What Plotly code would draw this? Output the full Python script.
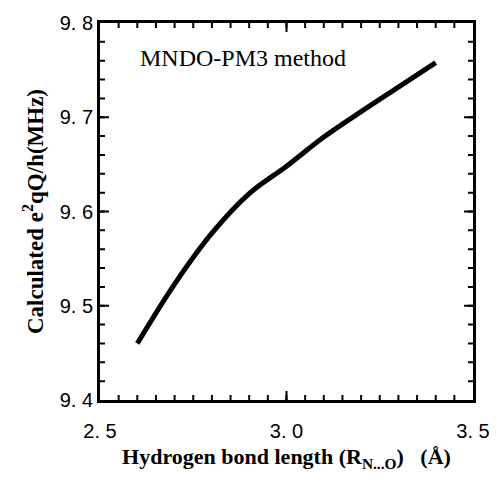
import plotly.graph_objects as go

r_no = [2.6, 2.7, 2.8, 2.9, 3.0, 3.1, 3.2, 3.3, 3.4]
eqq = [9.46, 9.523, 9.577, 9.619, 9.648, 9.679, 9.706, 9.732, 9.758]

x_ticks = [2.5, 3.0, 3.5]
x_ticktext = ["2. 5", "3. 0", "3. 5"]
y_ticks = [9.4, 9.5, 9.6, 9.7, 9.8]
y_ticktext = ["9. 4", "9. 5", "9. 6", "9. 7", "9. 8"]

fig = go.Figure()
fig.add_trace(go.Scatter(x=r_no, y=eqq, mode="lines",
                         line=dict(color="black", width=5, shape="spline", smoothing=1.0),
                         showlegend=False))

axis_common = dict(showgrid=False, zeroline=False, showline=True, linecolor="#000000",
                   linewidth=3, mirror="allticks", ticks="inside", ticklen=9,
                   tickwidth=2, tickcolor="#000000", layer="above traces",
                   tickfont=dict(family="Liberation Sans, Arial", size=20, color="black"))

fig.update_xaxes(range=[2.5, 3.5], tickvals=x_ticks, ticktext=x_ticktext,
                 ticklabelstandoff=11,
                 minor=dict(tickvals=[2.5 + 0.05 * i for i in range(21)], ticks="inside",
                            ticklen=5, tickcolor="#000000", tickwidth=1.5),
                 title=dict(text="<b>Hydrogen bond length (R<sub>N...O</sub>)   (Å)</b>",
                            font=dict(family="Liberation Serif, Times New Roman", size=22, color="black"),
                            standoff=8),
                 **axis_common)
fig.update_yaxes(range=[9.4, 9.8], tickvals=y_ticks, ticktext=y_ticktext,
                 minor=dict(tickvals=[9.4 + 0.02 * i for i in range(21)], ticks="inside",
                            ticklen=5, tickcolor="#000000", tickwidth=1.5),
                 title=dict(text="<b>Calculated e<sup>2</sup>qQ/h(MHz)</b>",
                            font=dict(family="Liberation Serif, Times New Roman", size=23, color="black"),
                            standoff=10),
                 **axis_common)

fig.add_annotation(x=2.602, y=9.763, xref="x", yref="y", xanchor="left", yanchor="middle",
                   text="MNDO-PM3 method", showarrow=False,
                   font=dict(family="Liberation Serif, Times New Roman", size=24, color="black"))

fig.update_layout(width=502, height=486, margin=dict(l=100, r=19, t=18, b=86),
                  paper_bgcolor="white", plot_bgcolor="white")

css_fix = """
var s = document.createElement('style');
s.innerHTML = '.js-plotly-plot .plotly .crisp, .js-plotly-plot .plotly path {shape-rendering: auto !important;}';
document.head.appendChild(s);
"""

fig.write_html("out.html", post_script=css_fix)
